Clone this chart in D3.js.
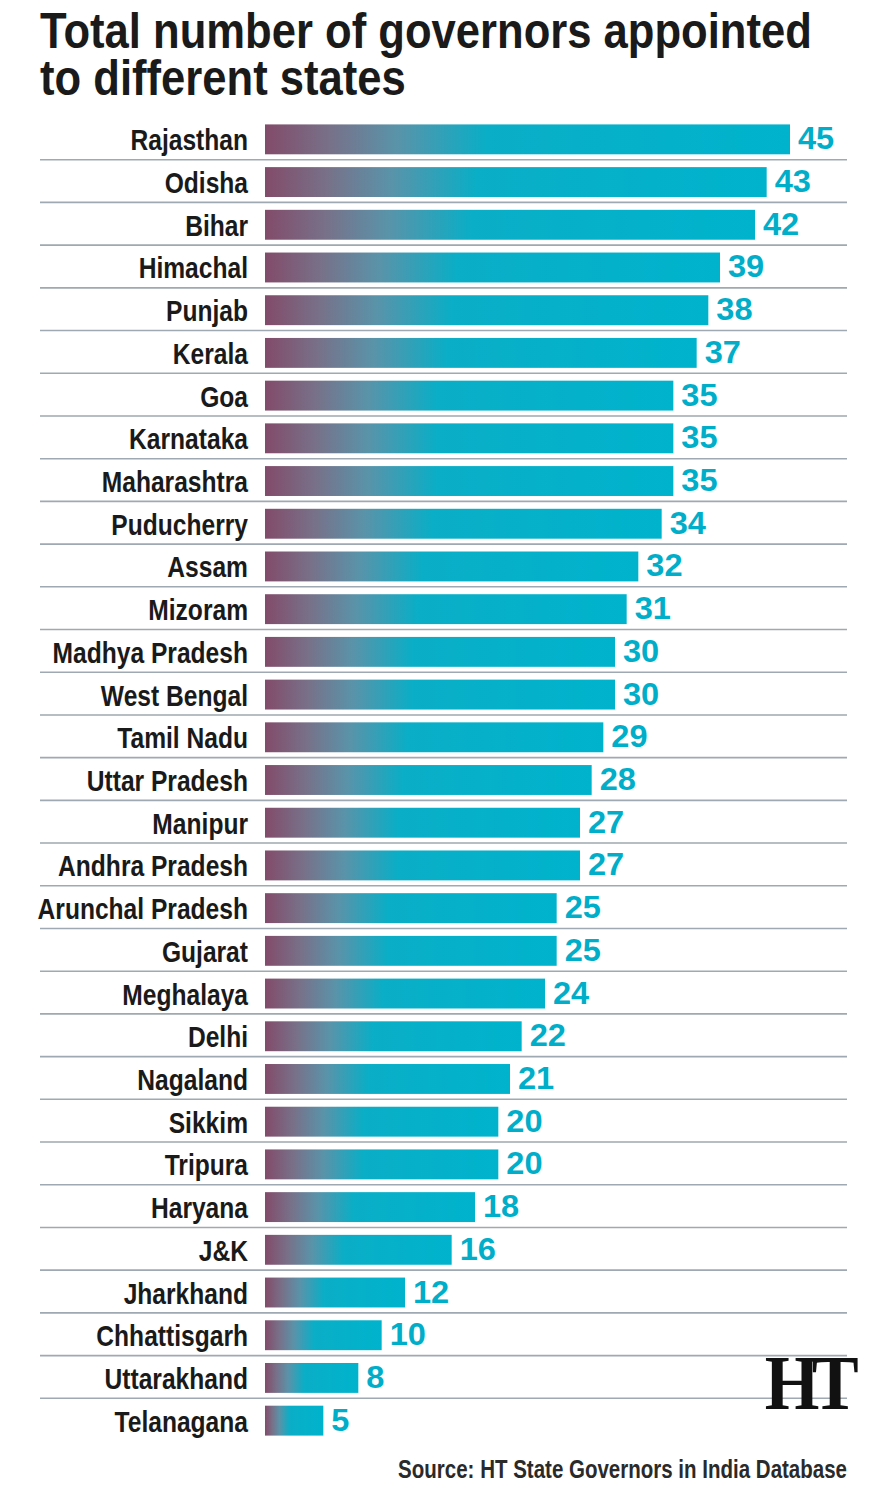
<!DOCTYPE html>
<html><head><meta charset="utf-8">
<script src="https://cdn.jsdelivr.net/npm/d3@7"></script>
<style>html,body{margin:0;padding:0;background:#fff;}svg{display:block;}</style>
</head><body>
<script>
const states = ["Rajasthan","Odisha","Bihar","Himachal","Punjab","Kerala","Goa","Karnataka","Maharashtra","Puducherry","Assam","Mizoram","Madhya Pradesh","West Bengal","Tamil Nadu","Uttar Pradesh","Manipur","Andhra Pradesh","Arunchal Pradesh","Gujarat","Meghalaya","Delhi","Nagaland","Sikkim","Tripura","Haryana","J&K","Jharkhand","Chhattisgarh","Uttarakhand","Telanagana"];
const governors = [45,43,42,39,38,37,35,35,35,34,32,31,30,30,29,28,27,27,25,25,24,22,21,20,20,18,16,12,10,8,5];
const titleLines = ["Total number of governors appointed","to different states"];
const sourceText = "Source: HT State Governors in India Database";

const W = 870, H = 1486;
const svg = d3.select("body").append("svg").attr("width", W).attr("height", H);
const defs = svg.append("defs");
const grad = defs.append("linearGradient").attr("id","barGrad")
  .attr("x1","0").attr("x2","1").attr("y1","0").attr("y2","0");
[[0,"#824b6a"],[0.12,"#787088"],[0.25,"#5a93a9"],[0.42,"#0aaec6"],[1,"#00b3cd"]].forEach(([o,c])=>{
  grad.append("stop").attr("offset",o).attr("stop-color",c);
});

const font = "'Liberation Sans',Arial,sans-serif";
const K = 0.82; // horizontal condensing

// title
const titles = svg.selectAll("text.title").data(titleLines).enter().append("text")
  .attr("class","title")
  .attr("font-family",font).attr("font-weight","bold").attr("font-size",50)
  .attr("fill","#1a1a1a").text(d=>d);
const tLen = titles.nodes()[0].getComputedTextLength();
const tK = 772 / tLen;
titles.attr("transform",(d,i)=>`translate(40,${48+i*47}) scale(${tK},1)`);

const x = d3.scaleLinear().domain([0,45]).range([265,790]);
const y = d3.scaleBand().domain(states).range([118,1442]).paddingInner(0.3).paddingOuter(0.15);
const step = y.step();

// separators
svg.selectAll("line.sep").data(states.slice(0,-1)).enter().append("line")
  .attr("class","sep")
  .attr("x1",40).attr("x2",847)
  .attr("y1",d=>y(d)+y.bandwidth()/2+step/2-1)
  .attr("y2",d=>y(d)+y.bandwidth()/2+step/2-1)
  .attr("stroke","#9ea9b1").attr("stroke-width",1.6);

const rows = svg.selectAll("g.row").data(states.map((s,i)=>({s,v:governors[i]}))).enter().append("g").attr("class","row");

rows.append("rect")
  .attr("x",x(0)).attr("y",d=>y(d.s))
  .attr("width",d=>x(d.v)-x(0)).attr("height",y.bandwidth())
  .attr("fill","url(#barGrad)");

rows.append("text")
  .attr("transform",d=>`translate(248,${y(d.s)+y.bandwidth()/2+11}) scale(${K},1)`)
  .attr("text-anchor","end")
  .attr("font-family",font).attr("font-weight","bold").attr("font-size",30)
  .attr("fill","#1a1a1a").text(d=>d.s);

rows.append("text")
  .attr("transform",d=>`translate(${x(d.v)+8},${y(d.s)+y.bandwidth()/2+10}) scale(1.05,1)`)
  .attr("font-family",font).attr("font-weight","bold").attr("font-size",31)
  .attr("fill","#00aec9").text(d=>d.v);

// HT logo
svg.append("text").attr("transform","translate(851,1409) scale(0.95,1.05)").attr("text-anchor","end")
  .attr("font-family","'Liberation Serif','DejaVu Serif',serif").attr("font-weight","bold")
  .attr("font-size",74).attr("letter-spacing",-8).attr("fill","#111").text("HT");

const src = svg.append("text")
  .attr("text-anchor","end")
  .attr("font-family",font).attr("font-weight","bold").attr("font-size",25)
  .attr("fill","#2a2a2a").text(sourceText);
const sK = 449 / src.node().getComputedTextLength();
src.attr("transform",`translate(847,1478) scale(${sK},1)`);
</script>
</body></html>
